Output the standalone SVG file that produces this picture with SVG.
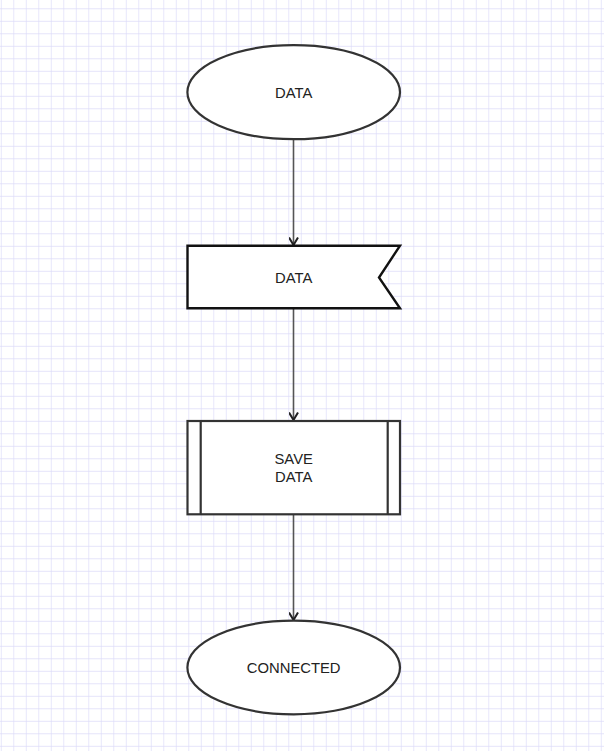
<svg xmlns="http://www.w3.org/2000/svg" width="604" height="751" viewBox="0 0 604 751">
  <defs>
    <pattern id="grid" x="13.3" y="8.3" width="12.5" height="12.5" patternUnits="userSpaceOnUse">
      <path d="M0 0 H12.5 M0 0 V12.5" fill="none" stroke="#dcdaf9" stroke-width="1.3"/>
    </pattern>
    <marker id="arrow" viewBox="0 0 10 10" refX="9" refY="5" markerWidth="10" markerHeight="10" markerUnits="userSpaceOnUse" orient="auto">
      <path d="M1.5 0.5 L9 5 L1.5 9.5" fill="none" stroke="#222" stroke-width="2"/>
    </marker>
  </defs>
  <style>
    .shape { fill: #ffffff; stroke: #333333; stroke-width: 2.2; }
    .flag { fill: #ffffff; stroke: #111111; stroke-width: 2.4; stroke-linejoin: miter; }
    .label { font-family: "Liberation Sans", Arial, sans-serif; font-size: 14.8px; fill: #222222; text-anchor: middle; dominant-baseline: central; }
    .edge { fill: none; stroke: #555555; stroke-width: 1.6; marker-end: url(#arrow); }
  </style>

  <rect width="604" height="751" fill="#ffffff"/>
  <rect width="604" height="751" fill="url(#grid)"/>

  <g id="connectors">
    <line class="edge" x1="293.5" y1="139.5" x2="293.5" y2="245"/>
    <line class="edge" x1="293.5" y1="308.5" x2="293.5" y2="420"/>
    <line class="edge" x1="293.5" y1="514.5" x2="293.5" y2="620"/>
  </g>

  <g id="node-data-start">
    <ellipse class="shape" cx="293.7" cy="92.2" rx="106.3" ry="47"/>
    <text class="label" x="293.7" y="92.5">DATA</text>
  </g>

  <g id="node-data-flag">
    <path class="flag" d="M187.5 245.7 H400 L379 277.5 L400 308.3 H187.5 Z"/>
    <text class="label" x="293.7" y="277.5">DATA</text>
  </g>

  <g id="node-save-data">
    <rect class="shape" x="187.5" y="421" width="212.5" height="93.3"/>
    <line class="shape" x1="200.7" y1="421" x2="200.7" y2="514.3"/>
    <line class="shape" x1="387.7" y1="421" x2="387.7" y2="514.3"/>
    <text class="label" x="293.7" y="458.5">SAVE</text>
    <text class="label" x="293.7" y="476.5">DATA</text>
  </g>

  <g id="node-connected">
    <ellipse class="shape" cx="293.7" cy="667.5" rx="106.3" ry="46.8"/>
    <text class="label" x="293.7" y="667.5">CONNECTED</text>
  </g>
</svg>
